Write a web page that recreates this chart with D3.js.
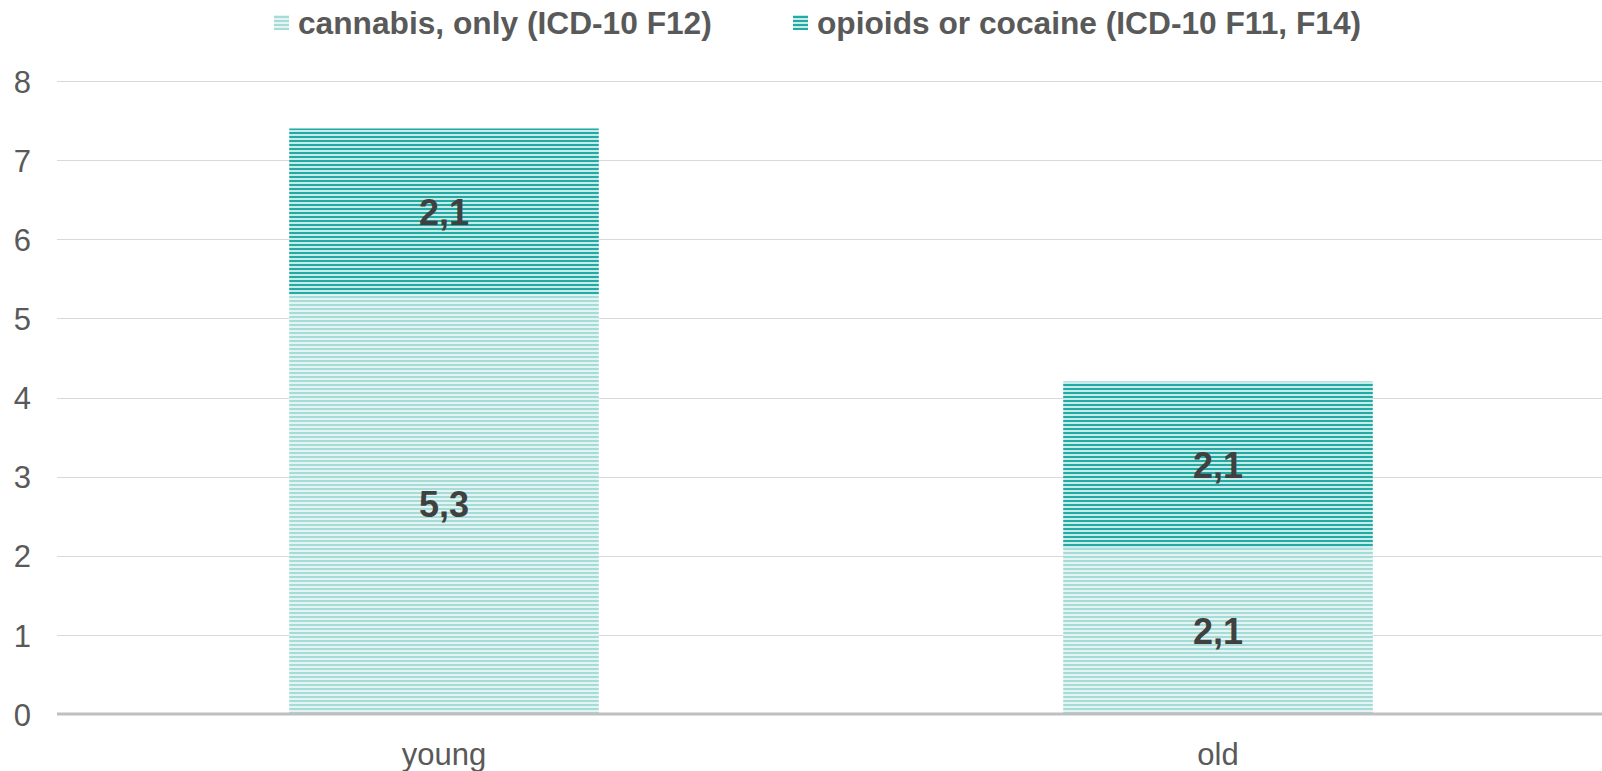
<!DOCTYPE html>
<html><head><meta charset="utf-8">
<script src="https://cdn.jsdelivr.net/npm/d3@7"></script>
<style>html,body{margin:0;padding:0;background:#fff;overflow:hidden}</style>
</head><body>
<svg id="chart" width="1602" height="771"></svg>
<script>
const categories = ["young", "old"];
const seriesNames = ["cannabis, only (ICD-10 F12)", "opioids or cocaine (ICD-10 F11, F14)"];
const cannabis = [5.3, 2.1];
const opioids = [2.1, 2.1];
const yTicks = [0,1,2,3,4,5,6,7,8];

const W = 1602, H = 771;
const m = {left: 57, right: 0, top: 81, bottom: 57};
const svg = d3.select("#chart");
const font = "'Liberation Sans', Arial, sans-serif";

const defs = svg.append("defs");
function stripe(id, light, dark) {
  const p = defs.append("pattern").attr("id", id).attr("patternUnits", "userSpaceOnUse")
    .attr("width", 8).attr("height", 4);
  p.append("rect").attr("width", 8).attr("height", 4).attr("fill", light);
  p.append("rect").attr("y", 0).attr("width", 8).attr("height", 2).attr("fill", dark);
}
stripe("pA", "#e3f4f3", "#a6dcd7");
stripe("pB", "#c6ebe8", "#22aaa4");
const fills = ["url(#pA)", "url(#pB)"];

const x = d3.scaleBand().domain(categories).range([m.left, W + 3]).paddingInner(0.6).paddingOuter(0.3);
const y = d3.scaleLinear().domain([0, 8]).range([H - m.bottom, m.top]);

// gridlines
svg.append("g").selectAll("line").data(yTicks.filter(d => d > 0)).join("line")
  .attr("x1", m.left).attr("x2", W - m.right)
  .attr("y1", d => Math.round(y(d)) + 0.5).attr("y2", d => Math.round(y(d)) + 0.5)
  .attr("stroke", "#d9d9d9").attr("stroke-width", 1);

// y axis labels
const yAxis = d3.axisLeft(y).tickValues(yTicks).tickSize(0).tickPadding(0).tickFormat(d3.format("d"));
const ya = svg.append("g").attr("transform", `translate(31,0)`).call(yAxis);
ya.select(".domain").remove();
ya.selectAll("text").attr("font-family", font).attr("font-size", 31).attr("fill", "#595959").attr("dy", "0.36em");

// stacked data
const data = categories.map((c, i) => ({cat: c, cannabis: cannabis[i], opioids: opioids[i]}));
const stack = d3.stack().keys(["cannabis", "opioids"])(data);

svg.append("g").selectAll("g").data(stack).join("g")
  .attr("fill", (d, i) => fills[i])
  .selectAll("rect").data(d => d).join("rect")
  .attr("x", d => x(d.data.cat))
  .attr("width", x.bandwidth())
  .attr("y", d => y(d[1]))
  .attr("height", d => y(d[0]) - y(d[1]));

// data labels
const lbl = svg.append("g");
stack.forEach(s => {
  s.forEach(d => {
    lbl.append("text")
      .attr("x", x(d.data.cat) + x.bandwidth() / 2)
      .attr("y", (y(d[0]) + y(d[1])) / 2)
      .attr("dy", "0.36em")
      .attr("text-anchor", "middle")
      .attr("font-family", font).attr("font-weight", "bold").attr("font-size", 36)
      .attr("fill", "#404040")
      .text(d3.format(".1f")(d[1] - d[0]).replace(".", ","));
  });
});

// x axis
const xAxis = d3.axisBottom(x).tickSize(0).tickPadding(0);
const xa = svg.append("g").attr("transform", `translate(0,${y(0)})`).call(xAxis);
xa.select(".domain").remove();
xa.selectAll("text").attr("font-family", font).attr("font-size", 31).attr("fill", "#595959").attr("y", 29).attr("dy", "0.71em");
svg.append("line").attr("x1", m.left).attr("x2", W - m.right).attr("y1", y(0)).attr("y2", y(0))
  .attr("stroke", "#bfbfbf").attr("stroke-width", 3);

// legend
const legX = [274, 793];
const leg = svg.append("g");
seriesNames.forEach((n, i) => {
  leg.append("rect").attr("x", legX[i]).attr("y", 15).attr("width", 15).attr("height", 15)
    .attr("fill", fills[i]);
  leg.append("text").attr("x", legX[i] + 24).attr("y", 23).attr("dy", "0.36em")
    .attr("font-family", font).attr("font-weight", "bold").attr("font-size", 31.7)
    .attr("fill", "#595959").text(n);
});
</script>
</body></html>
